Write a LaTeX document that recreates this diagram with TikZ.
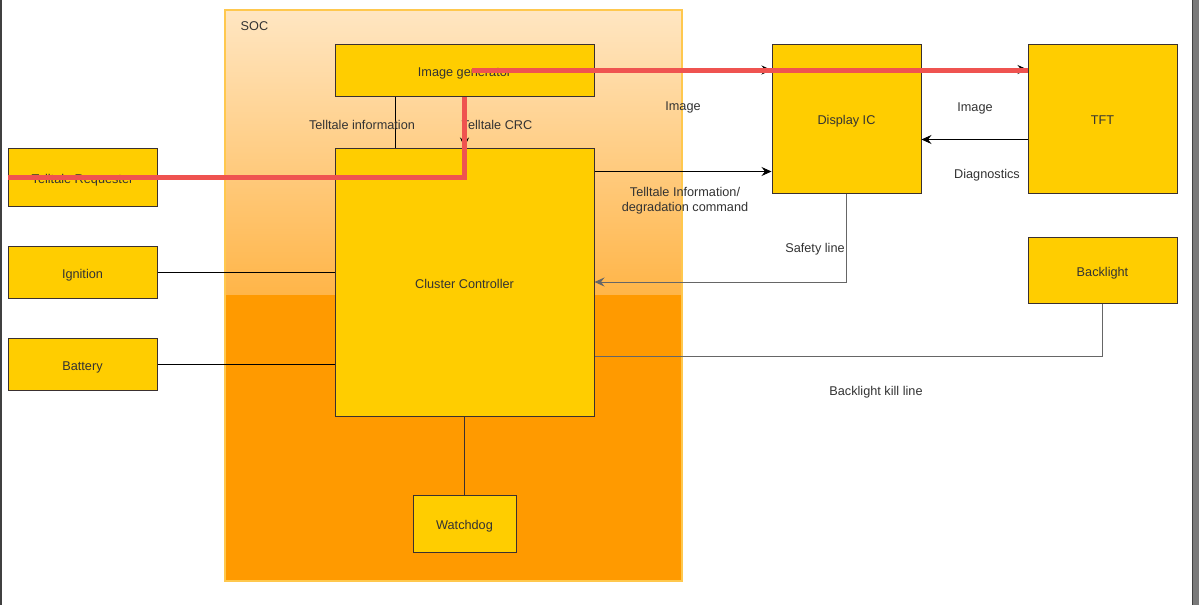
\documentclass[tikz,border=0pt]{standalone}
\usepackage{fontspec}
\setmainfont{Liberation Sans}
\usetikzlibrary{arrows.meta,calc}
\definecolor{boxfill}{HTML}{FFCD00}
\definecolor{boxdraw}{HTML}{3A3030}
\definecolor{txt}{HTML}{333333}
\definecolor{soctop}{HTML}{FFE6C2}
\definecolor{socmid}{HTML}{FFB548}
\definecolor{socbot}{HTML}{FF9A00}
\definecolor{socborder}{HTML}{FFC84E}
\definecolor{redline}{HTML}{EF5350}
\definecolor{grayline}{HTML}{666666}
\tikzset{
  blk/.style={draw=boxdraw, fill=boxfill, line width=1pt, inner sep=0pt, text=txt,
    font=\fontsize{12.7}{15}\selectfont, text height=12pt, text depth=0pt},
  lbl/.style={text=txt, font=\fontsize{12.7}{15}\selectfont, inner sep=0pt, align=center,
    text height=12pt, text depth=0pt},
  conn/.style={draw=black, line width=0.9pt},
  arr/.style={conn, -{Stealth[length=10pt,width=9pt,inset=3.5pt]}},
  redann/.style={draw=redline, line width=5pt},
}
\begin{document}
\begin{tikzpicture}[x=1pt,y=-1pt]
\useasboundingbox (0,0) rectangle (1199,605);
\fill[white] (0,0) rectangle (1199,605);
% frame edges
\fill[black!75] (0,0) rectangle (1.6,605);
\fill[black!52] (1192,0) rectangle (1199,605);
\fill[black!75] (1191.5,0) rectangle (1193,605);
% SOC container
\shade[top color=soctop, bottom color=socmid] (225,10) rectangle (682,295);
\fill[socbot] (225,295) rectangle (682,581);
\draw[socborder, line width=2pt] (225,10) rectangle (682,581);
\node[lbl] (soc) at (254.5,24) {SOC};
% blocks
\node[blk, minimum width=259pt, minimum height=52pt] (img) at (464.5,70) {Image generator};
\node[blk, minimum width=259pt, minimum height=268pt] (cc) at (464.5,282) {Cluster Controller};
\node[blk, minimum width=149pt, minimum height=58pt] (treq) at (82.5,177) {Telltale Requester};
\node[blk, minimum width=149pt, minimum height=52pt] (ign) at (82.5,272) {Ignition};
\node[blk, minimum width=149pt, minimum height=52pt] (bat) at (82.5,364) {Battery};
\node[blk, minimum width=103pt, minimum height=57pt] (wd) at (464.5,523.5) {Watchdog};
\node[blk, minimum width=149pt, minimum height=149pt] (dic) at (846.5,118.5) {Display IC};
\node[blk, minimum width=149pt, minimum height=149pt] (tft) at (1102.5,118.5) {TFT};
\node[blk, minimum width=149pt, minimum height=66pt] (bl) at (1102.5,270) {Backlight};
% connectors
\draw[conn] ($(img.south)+(-69.5,0)$) -- ($(cc.north)+(-69.5,0)$);
\draw[arr] (img.south) -- (cc.north);
\draw[arr] (img.east) -- (img.east -| dic.west);
\draw[arr] ($(dic.north east)+(0,26)$) -- ($(tft.north west)+(0,26)$);
\draw[arr] ($(cc.north east)+(0,24)$) -- ($(dic.north west)+(0,128)$);
\draw[arr] ($(tft.north west)+(0,96)$) -- ($(dic.north east)+(0,96)$);
\draw[arr, draw=grayline] (dic.south) |- (cc.east);
\draw[conn, draw=grayline] (bl.south) |- ($(cc.south east)+(0,-60)$);
\draw[conn] (ign.east) -- (ign.east -| cc.west);
\draw[conn] (bat.east) -- (bat.east -| cc.west);
\draw[conn, draw=boxdraw] (cc.south) -- (wd.north);
% labels
\node[lbl] (l1) at (362,123) {Telltale information};
\node[lbl] (l2) at (497,123) {Telltale CRC};
\node[lbl] (l3) at (683,104) {Image};
\node[lbl] (l4) at (685,205) {Telltale Information/\\degradation command};
\node[lbl] (l5) at (975,105) {Image};
\node[lbl] (l6) at (987,172) {Diagnostics};
\node[lbl] (l7) at (815,246) {Safety line};
\node[lbl] (l8) at (876,389) {Backlight kill line};
% red annotation lines
\draw[redann] ($(treq.west)+(0,0.5)$) -| (img.south);
\draw[redann] ($(img.center)+(7.5,0)$) -- (img.center -| tft.west);
\end{tikzpicture}
\end{document}
